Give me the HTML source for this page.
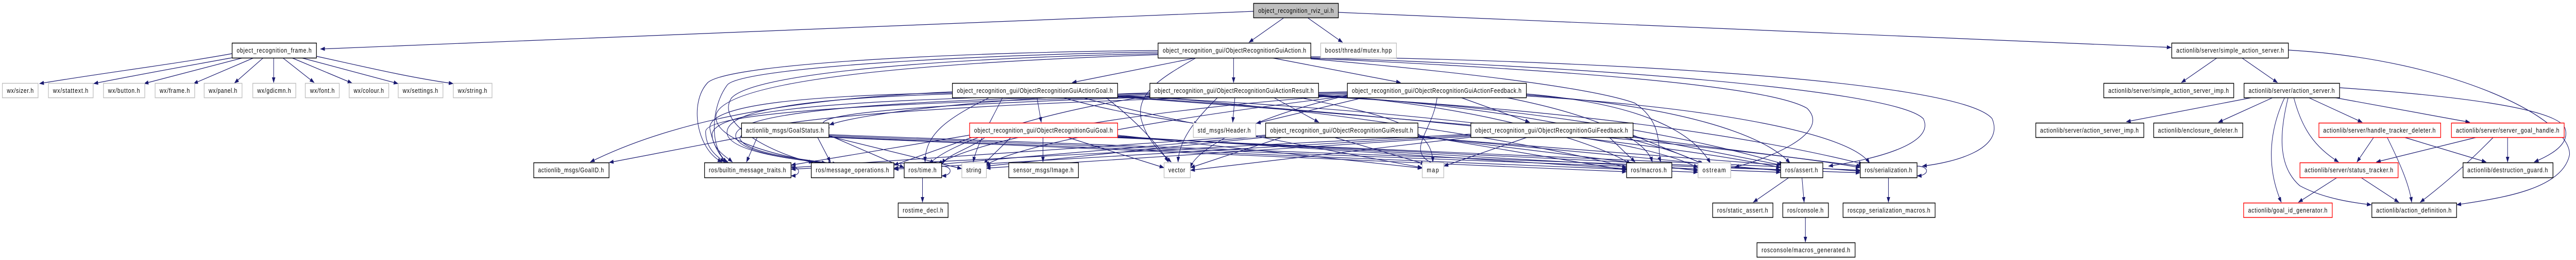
<!DOCTYPE html>
<html><head><meta charset="utf-8"><style>
html,body{margin:0;padding:0;background:#fff;width:100%;height:100%;overflow:hidden;}
svg{display:block;width:100vw;height:100vh;overflow:hidden;}
text{font-family:"Liberation Sans",sans-serif;font-size:12.5px;fill:#000;}
.e{fill:none;stroke:#191970;stroke-width:1.2;}
</style></head><body>
<svg viewBox="0 0 5987 504" preserveAspectRatio="none" xmlns="http://www.w3.org/2000/svg">
<defs><marker id="a" markerWidth="11" markerHeight="8" refX="10" refY="4" orient="auto" markerUnits="userSpaceOnUse"><path d="M0,0 L11,4 L0,8z" fill="#191970"/></marker></defs>
<g class="e" marker-end="url(#a)">
<path d="M2913,22 L745,95"/>
<path d="M2983,35 L2903,82"/>
<path d="M3040,35 L3120,82"/>
<path d="M3111,24 L5046,92"/>
<path d="M539,104 C400,125 250,140 92,162"/>
<path d="M539,112 C420,130 320,145 218,162"/>
<path d="M565,112 L335,162"/>
<path d="M590,112 L450,162"/>
<path d="M612,112 L545,161"/>
<path d="M636,112 L636,160"/>
<path d="M657,112 L730,160"/>
<path d="M678,112 L818,161"/>
<path d="M700,112 L925,162"/>
<path d="M735,109 C850,130 950,150 1053,162"/>
<path d="M5153,112 L5070,160"/>
<path d="M5210,112 L5293,160"/>
<path d="M5318,97 C5700,115 5975,230 5972,300 C5955,370 5800,385 5710,397"/>
<path d="M5235,189 L4942,236"/>
<path d="M5283,189 L5156,237"/>
<path d="M5310,189 C5270,260 5270,330 5302,392"/>
<path d="M5318,189 C5300,250 5290,320 5345,360 C5400,385 5470,393 5511,397"/>
<path d="M5331,189 C5350,250 5380,285 5435,314"/>
<path d="M5365,189 L5490,237"/>
<path d="M5425,189 L5740,237"/>
<path d="M5437,170 C5700,185 5950,210 5962,250 C5972,280 5930,300 5890,314"/>
<path d="M5517,266 L5478,314"/>
<path d="M5548,266 C5580,320 5600,360 5605,392"/>
<path d="M5587,266 L5778,314"/>
<path d="M5757,266 L5523,314"/>
<path d="M5795,266 C5720,330 5660,370 5625,392"/>
<path d="M5828,266 L5828,314"/>
<path d="M5432,344 L5342,392"/>
<path d="M5487,344 L5575,392"/>
<path d="M2144,344 L2144,392"/>
<path d="M2188,322 C2215,322 2215,340 2189,341"/>
<path d="M1838,322 C1862,325 1862,340 1839,341"/>
<path d="M4455,322 C4485,322 4485,340 4456,341"/>
<path d="M4158,344 L4075,392"/>
<path d="M4188,344 L4193,392"/>
<path d="M4389,344 L4389,392"/>
<path d="M4196,421 L4196,469"/>
<path d="M2780,112 L2492,160"/>
<path d="M2867,112 L2867,160"/>
<path d="M2955,112 L3255,160"/>
<path d="M2780,112 C2700,150 2640,180 2652,230 C2665,270 2690,290 2722,314"/>
<path d="M2691,98 C2300,100 1700,120 1645,160 C1600,200 1620,290 1678,314"/>
<path d="M2691,101 C2300,105 1720,130 1690,165 C1650,210 1650,290 1690,314"/>
<path d="M2691,104 C2300,110 1760,135 1700,190 C1660,240 1800,300 1890,315"/>
<path d="M2691,106 C2200,120 1700,150 1665,220 C1650,270 1800,300 1905,316"/>
<path d="M3046,110 C3600,115 4550,150 4630,230 C4660,290 4540,315 4468,322"/>
<path d="M3046,112 C3600,125 4400,170 4470,230 C4500,280 4350,310 4250,322"/>
<path d="M3046,113 C3500,130 4100,160 4200,210 C4260,260 4100,310 4032,324"/>
<path d="M3046,114 C3400,140 3700,170 3800,200 C3870,240 3850,290 3860,314"/>
<path d="M2410,189 L2420,237"/>
<path d="M2470,189 C2600,220 2700,230 2785,240"/>
<path d="M2213,178 C1900,190 1600,220 1372,314"/>
<path d="M2213,180 C1900,185 1640,200 1650,250 C1660,290 1680,310 1692,314"/>
<path d="M2213,182 C1900,190 1680,210 1690,260 C1700,295 1850,310 1920,316"/>
<path d="M2300,189 C2200,230 2150,260 2150,314"/>
<path d="M2330,189 C2300,240 2270,280 2262,314"/>
<path d="M2570,189 C2650,240 2700,290 2715,314"/>
<path d="M2513,189 C2800,250 3150,300 3305,325"/>
<path d="M2597,185 C3000,200 3600,280 3780,325"/>
<path d="M2597,186 C3200,210 3800,260 3946,325"/>
<path d="M2597,187 C3200,220 3900,280 4138,325"/>
<path d="M2597,188 C3300,230 4100,290 4323,325"/>
<path d="M2960,189 L3065,237"/>
<path d="M2870,189 L2865,237"/>
<path d="M2830,189 C2780,230 2740,270 2738,314"/>
<path d="M2672,180 C2300,190 2000,220 1928,242"/>
<path d="M2672,182 C2000,190 1660,210 1655,260 C1655,290 1690,305 1702,314"/>
<path d="M2672,184 C2000,195 1700,220 1710,265 C1720,300 1880,312 1935,317"/>
<path d="M2672,186 C2400,220 2200,280 2160,318"/>
<path d="M3020,189 C3200,220 3330,240 3330,314"/>
<path d="M3064,184 C3400,200 3700,270 3790,318"/>
<path d="M3064,185 C3500,205 3850,270 3956,318"/>
<path d="M3064,186 C3600,210 3950,270 4145,318"/>
<path d="M3064,187 C3700,215 4100,270 4330,318"/>
<path d="M3395,189 L3555,237"/>
<path d="M3170,189 L2920,239"/>
<path d="M3340,189 C3330,260 3250,300 3355,324"/>
<path d="M3131,178 C2500,190 1800,210 1928,248"/>
<path d="M3131,180 C2400,190 1640,205 1640,255 C1640,290 1670,305 1684,314"/>
<path d="M3131,182 C2400,195 1700,225 1720,270 C1740,300 1880,310 1945,318"/>
<path d="M3131,184 C2700,210 2300,260 2180,318"/>
<path d="M3131,186 C2800,220 2400,270 2290,320"/>
<path d="M3131,185 C2900,230 2780,290 2766,325"/>
<path d="M3500,189 C3750,230 3830,280 3840,314"/>
<path d="M3547,182 C3800,200 3930,250 3975,316"/>
<path d="M3547,184 C3900,205 4100,260 4160,316"/>
<path d="M3547,186 C4000,210 4300,260 4345,316"/>
<path d="M2424,266 L2424,314"/>
<path d="M2290,266 C2250,290 2200,300 2190,318"/>
<path d="M2350,266 L2286,318"/>
<path d="M2260,266 L2078,320"/>
<path d="M2253,262 L1839,320"/>
<path d="M2480,266 L2705,325"/>
<path d="M2597,262 L3305,326"/>
<path d="M2597,264 L3780,327"/>
<path d="M2597,265 L3946,328"/>
<path d="M2597,266 L4138,329"/>
<path d="M2597,267 L4323,330"/>
<path d="M2980,266 L2767,325"/>
<path d="M3100,266 L3312,318"/>
<path d="M2941,262 L1839,325"/>
<path d="M2941,264 L2078,326"/>
<path d="M2941,266 L2292,322"/>
<path d="M3295,262 L3780,330"/>
<path d="M3295,264 L3946,331"/>
<path d="M3295,265 L4138,331"/>
<path d="M3295,266 L4323,332"/>
<path d="M3550,266 L3356,322"/>
<path d="M3740,266 L3800,314"/>
<path d="M3418,260 L1839,328"/>
<path d="M3418,262 L2078,328"/>
<path d="M3418,264 L2292,326"/>
<path d="M3418,266 L2767,330"/>
<path d="M3795,262 L3960,318"/>
<path d="M3795,264 L4140,320"/>
<path d="M3795,266 L4325,322"/>
<path d="M1723,266 L1416,315"/>
<path d="M1760,266 L1735,314"/>
<path d="M1900,266 L1930,314"/>
<path d="M1926,262 L2101,325"/>
<path d="M1926,264 L2235,327"/>
<path d="M1926,266 L3780,333"/>
<path d="M1926,265 L3946,334"/>
<path d="M1926,263 L4138,334"/>
<path d="M1926,261 L4323,335"/>
</g>
<g stroke-width="1.5">
<rect x="2913.5" y="6.5" width="197" height="28" fill="#bfbfbf" stroke="#000"/>
<rect x="539.5" y="83.5" width="196" height="29" fill="#fff" stroke="#000"/>
<rect x="2691.5" y="83.5" width="355" height="29" fill="#fff" stroke="#000"/>
<rect x="3069.5" y="83.5" width="176" height="29" fill="#fff" stroke="#bfbfbf"/>
<rect x="5047.5" y="83.5" width="271" height="29" fill="#fff" stroke="#000"/>
<rect x="5.5" y="161.5" width="83" height="28" fill="#fff" stroke="#bfbfbf"/>
<rect x="112.5" y="161.5" width="104" height="28" fill="#fff" stroke="#bfbfbf"/>
<rect x="240.5" y="161.5" width="96" height="28" fill="#fff" stroke="#bfbfbf"/>
<rect x="360.5" y="161.5" width="92" height="28" fill="#fff" stroke="#bfbfbf"/>
<rect x="474.5" y="161.5" width="88" height="28" fill="#fff" stroke="#bfbfbf"/>
<rect x="587.5" y="161.5" width="100" height="28" fill="#fff" stroke="#bfbfbf"/>
<rect x="709.5" y="161.5" width="79" height="28" fill="#fff" stroke="#bfbfbf"/>
<rect x="811.5" y="161.5" width="92" height="28" fill="#fff" stroke="#bfbfbf"/>
<rect x="925.5" y="161.5" width="104" height="28" fill="#fff" stroke="#bfbfbf"/>
<rect x="1053.5" y="161.5" width="90" height="28" fill="#fff" stroke="#bfbfbf"/>
<rect x="2213.5" y="161.5" width="384" height="28" fill="#fff" stroke="#000"/>
<rect x="2672.5" y="161.5" width="392" height="28" fill="#fff" stroke="#000"/>
<rect x="3131.5" y="161.5" width="416" height="28" fill="#fff" stroke="#000"/>
<rect x="4889.5" y="161.5" width="302" height="28" fill="#fff" stroke="#000"/>
<rect x="5215.5" y="161.5" width="222" height="28" fill="#fff" stroke="#000"/>
<rect x="1723.5" y="238.5" width="203" height="28" fill="#fff" stroke="#000"/>
<rect x="2253.5" y="238.5" width="344" height="28" fill="#fff" stroke="#ff0000"/>
<rect x="2773.5" y="238.5" width="145" height="28" fill="#fff" stroke="#bfbfbf"/>
<rect x="2941.5" y="238.5" width="354" height="28" fill="#fff" stroke="#000"/>
<rect x="3418.5" y="238.5" width="377" height="28" fill="#fff" stroke="#000"/>
<rect x="4731.5" y="238.5" width="251" height="28" fill="#fff" stroke="#000"/>
<rect x="5005.5" y="238.5" width="207" height="28" fill="#fff" stroke="#000"/>
<rect x="5389.5" y="238.5" width="283" height="28" fill="#fff" stroke="#ff0000"/>
<rect x="5697.5" y="238.5" width="262" height="28" fill="#fff" stroke="#ff0000"/>
<rect x="1240.5" y="315.5" width="175" height="29" fill="#fff" stroke="#000"/>
<rect x="1637.5" y="315.5" width="201" height="29" fill="#fff" stroke="#000"/>
<rect x="1885.5" y="315.5" width="192" height="29" fill="#fff" stroke="#000"/>
<rect x="2101.5" y="315.5" width="87" height="29" fill="#fff" stroke="#000"/>
<rect x="2235.5" y="315.5" width="57" height="29" fill="#fff" stroke="#bfbfbf"/>
<rect x="2344.5" y="315.5" width="162" height="29" fill="#fff" stroke="#000"/>
<rect x="2705.5" y="315.5" width="61" height="29" fill="#fff" stroke="#bfbfbf"/>
<rect x="3305.5" y="315.5" width="50" height="29" fill="#fff" stroke="#bfbfbf"/>
<rect x="3780.5" y="315.5" width="105" height="29" fill="#fff" stroke="#000"/>
<rect x="3946.5" y="315.5" width="76" height="29" fill="#fff" stroke="#bfbfbf"/>
<rect x="4138.5" y="315.5" width="98" height="29" fill="#fff" stroke="#000"/>
<rect x="4323.5" y="315.5" width="132" height="29" fill="#fff" stroke="#000"/>
<rect x="5345.5" y="315.5" width="228" height="29" fill="#fff" stroke="#ff0000"/>
<rect x="5724.5" y="315.5" width="209" height="29" fill="#fff" stroke="#000"/>
<rect x="2087.5" y="393.5" width="116" height="28" fill="#fff" stroke="#000"/>
<rect x="3980.5" y="393.5" width="140" height="28" fill="#fff" stroke="#000"/>
<rect x="4143.5" y="393.5" width="106" height="28" fill="#fff" stroke="#000"/>
<rect x="4283.5" y="393.5" width="214" height="28" fill="#fff" stroke="#000"/>
<rect x="5214.5" y="393.5" width="206" height="28" fill="#fff" stroke="#ff0000"/>
<rect x="5512.5" y="393.5" width="197" height="28" fill="#fff" stroke="#000"/>
<rect x="4083.5" y="470.5" width="228" height="28" fill="#fff" stroke="#000"/>
</g>
<g text-anchor="middle" lengthAdjust="spacingAndGlyphs">
<text x="3012" y="25" textLength="175">object_recognition_rviz_ui.h</text>
<text x="637" y="102" textLength="174">object_recognition_frame.h</text>
<text x="2869" y="102" textLength="333">object_recognition_gui/ObjectRecognitionGuiAction.h</text>
<text x="3157" y="102" textLength="155">boost/thread/mutex.hpp</text>
<text x="5183" y="102" textLength="250">actionlib/server/simple_action_server.h</text>
<text x="47" y="180" textLength="62">wx/sizer.h</text>
<text x="164" y="180" textLength="82">wx/stattext.h</text>
<text x="288" y="180" textLength="74">wx/button.h</text>
<text x="406" y="180" textLength="70">wx/frame.h</text>
<text x="518" y="180" textLength="66">wx/panel.h</text>
<text x="637" y="180" textLength="78">wx/gdicmn.h</text>
<text x="749" y="180" textLength="57">wx/font.h</text>
<text x="857" y="180" textLength="70">wx/colour.h</text>
<text x="977" y="180" textLength="82">wx/settings.h</text>
<text x="1098" y="180" textLength="68">wx/string.h</text>
<text x="2405" y="180" textLength="362">object_recognition_gui/ObjectRecognitionGuiActionGoal.h</text>
<text x="2868" y="180" textLength="370">object_recognition_gui/ObjectRecognitionGuiActionResult.h</text>
<text x="3339" y="180" textLength="394">object_recognition_gui/ObjectRecognitionGuiActionFeedback.h</text>
<text x="5040" y="180" textLength="280">actionlib/server/simple_action_server_imp.h</text>
<text x="5326" y="180" textLength="200">actionlib/server/action_server.h</text>
<text x="1824" y="257" textLength="181">actionlib_msgs/GoalStatus.h</text>
<text x="2425" y="257" textLength="322">object_recognition_gui/ObjectRecognitionGuiGoal.h</text>
<text x="2845" y="257" textLength="123">std_msgs/Header.h</text>
<text x="3118" y="257" textLength="332">object_recognition_gui/ObjectRecognitionGuiResult.h</text>
<text x="3606" y="257" textLength="355">object_recognition_gui/ObjectRecognitionGuiFeedback.h</text>
<text x="4856" y="257" textLength="229">actionlib/server/action_server_imp.h</text>
<text x="5108" y="257" textLength="185">actionlib/enclosure_deleter.h</text>
<text x="5530" y="257" textLength="261">actionlib/server/handle_tracker_deleter.h</text>
<text x="5828" y="257" textLength="240">actionlib/server/server_goal_handle.h</text>
<text x="1327" y="334" textLength="153">actionlib_msgs/GoalID.h</text>
<text x="1737" y="334" textLength="179">ros/builtin_message_traits.h</text>
<text x="1981" y="334" textLength="170">ros/message_operations.h</text>
<text x="2144" y="334" textLength="65">ros/time.h</text>
<text x="2263" y="334" textLength="35">string</text>
<text x="2425" y="334" textLength="140">sensor_msgs/Image.h</text>
<text x="2735" y="334" textLength="39">vector</text>
<text x="3330" y="334" textLength="28">map</text>
<text x="3832" y="334" textLength="83">ros/macros.h</text>
<text x="3984" y="334" textLength="54">ostream</text>
<text x="4187" y="334" textLength="76">ros/assert.h</text>
<text x="4389" y="334" textLength="110">ros/serialization.h</text>
<text x="5459" y="334" textLength="206">actionlib/server/status_tracker.h</text>
<text x="5828" y="334" textLength="187">actionlib/destruction_guard.h</text>
<text x="2145" y="412" textLength="94">rostime_decl.h</text>
<text x="4050" y="412" textLength="118">ros/static_assert.h</text>
<text x="4196" y="412" textLength="84">ros/console.h</text>
<text x="4390" y="412" textLength="192">roscpp_serialization_macros.h</text>
<text x="5317" y="412" textLength="184">actionlib/goal_id_generator.h</text>
<text x="5610" y="412" textLength="175">actionlib/action_definition.h</text>
<text x="4197" y="489" textLength="206">rosconsole/macros_generated.h</text>
</g>
</svg>
</body></html>
